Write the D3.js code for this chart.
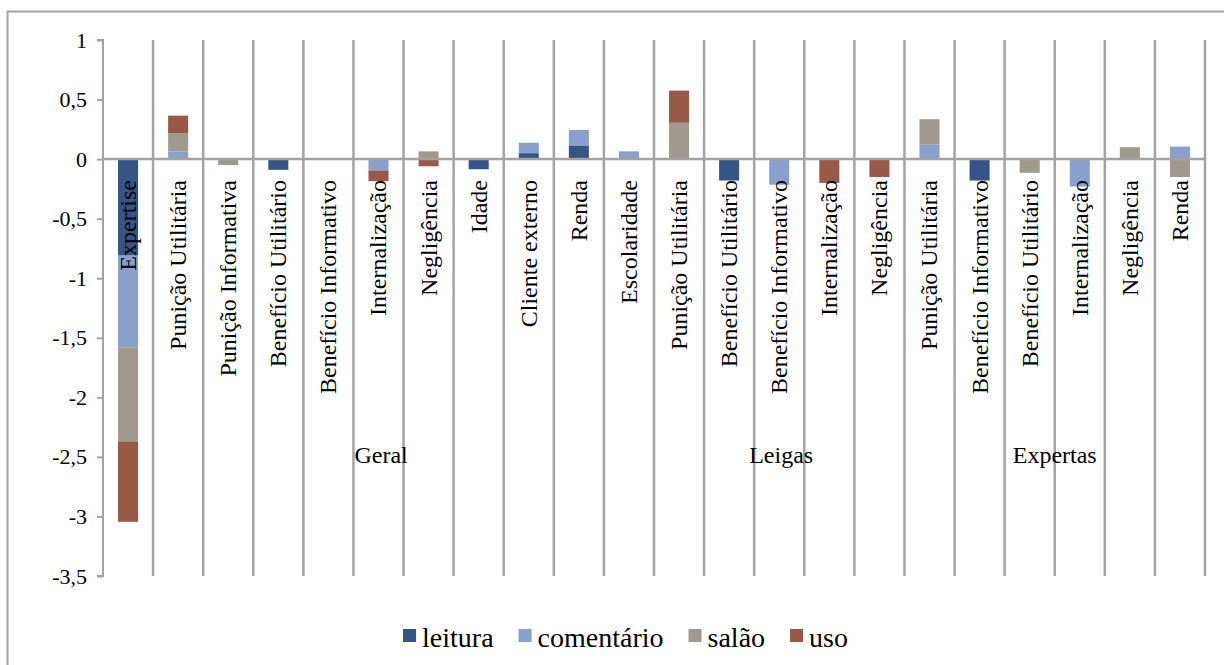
<!DOCTYPE html>
<html>
<head>
<meta charset="utf-8">
<script src="https://cdn.jsdelivr.net/npm/d3@7"></script>
<style>
  html, body { margin: 0; padding: 0; background: #fff; }
  svg { display: block; }
</style>
</head>
<body>
<svg id="chart" width="1224" height="665"></svg>
<script>
// Category names along the x axis, in order
const categories = [
  "Expertise", "Punição Utilitária", "Punição Informativa", "Benefício Utilitário",
  "Benefício Informativo", "Internalização", "Negligência", "Idade", "Cliente externo", "Renda",
  "Escolaridade", "Punição Utilitária", "Benefício Utilitário", "Benefício Informativo",
  "Internalização", "Negligência",
  "Punição Utilitária", "Benefício Informativo", "Benefício Utilitário", "Internalização",
  "Negligência", "Renda"
];
// Outer grouping level and how many categories each group spans
const groups = ["Geral", "Leigas", "Expertas"];
const groupSizes = [10, 6, 6];

// Series values (one per category)
const seriesNames = ["leitura", "comentário", "salão", "uso"];
const leitura    = [-0.81, 0, 0, -0.09, 0, 0, 0, -0.085, 0.05, 0.115, 0, 0, -0.18, 0, 0, 0, 0, -0.18, 0, 0, 0, 0];
const comentario = [-0.77, 0.065, 0, 0, 0, -0.095, 0, 0, 0.087, 0.13, 0.065, 0, 0, -0.215, 0, 0, 0.125, 0, 0, -0.23, 0, 0.105];
const salao      = [-0.79, 0.15, -0.05, 0, 0, 0, 0.065, 0, 0, 0, 0, 0.305, 0, 0, 0, 0, 0.21, 0, -0.115, 0, 0.10, -0.15];
const uso        = [-0.675, 0.15, 0, 0, 0, -0.09, -0.06, 0, 0, 0, 0, 0.27, 0, 0, -0.2, -0.15, 0, 0, 0, 0, 0, 0];
const seriesColors = ["#355587", "#88a0cb", "#a0998d", "#965a46"];

// Y axis ticks
const yTicks = [1, 0.5, 0, -0.5, -1, -1.5, -2, -2.5, -3, -3.5];
const tickLabel = v => String(v).replace(".", ",");

const FONT = "'Liberation Serif', 'DejaVu Serif', serif";

const svg = d3.select("#chart");
const gridColor = "#a3a3a3";

// Outer chart frame
svg.append("rect")
  .attr("x", 7.5).attr("y", 11.5)
  .attr("width", 1240).attr("height", 680)
  .attr("fill", "none").attr("stroke", "#a6a6a6").attr("stroke-width", 2);

const plot = { left: 103, right: 1205, top: 40, bottom: 576 };

const x = d3.scaleBand()
  .domain(d3.range(categories.length))
  .range([plot.left, plot.right])
  .paddingInner(0).paddingOuter(0);

const y = d3.scaleLinear().domain([-3.5, 1]).range([plot.bottom, plot.top]);

// Table for stacking
const rows = categories.map((c, i) => ({
  i,
  "leitura": leitura[i],
  "comentário": comentario[i],
  "salão": salao[i],
  "uso": uso[i]
}));
const stacked = d3.stack().keys(seriesNames).offset(d3.stackOffsetDiverging)(rows);

// Category separators (vertical lines)
const step = x.step();
svg.append("g")
  .selectAll("line")
  .data(d3.range(1, categories.length + 1))
  .join("line")
  .attr("x1", i => plot.left + i * step).attr("x2", i => plot.left + i * step)
  .attr("y1", y(1)).attr("y2", y(-3.5))
  .attr("stroke", gridColor).attr("stroke-width", 2.5);

// Bars
const barW = step * 0.4;
svg.append("g")
  .selectAll("g")
  .data(stacked)
  .join("g")
  .attr("fill", (d, k) => seriesColors[k])
  .selectAll("rect")
  .data(d => d.filter(p => p[1] !== p[0]))
  .join("rect")
  .attr("x", p => x(p.data.i) + (step - barW) / 2)
  .attr("width", barW)
  .attr("y", p => y(Math.max(p[0], p[1])))
  .attr("height", p => Math.abs(y(p[0]) - y(p[1])));

// Y axis
const yAxis = svg.append("g").attr("transform", `translate(${plot.left},0)`)
  .call(d3.axisLeft(y).tickValues(yTicks).tickFormat(tickLabel).tickSize(6).tickPadding(10));
yAxis.attr("font-family", null).attr("font-size", null);
yAxis.select(".domain").attr("stroke", gridColor).attr("stroke-width", 2)
  .attr("d", `M-6,${y(1)}H0V${y(-3.5)}H-6`);
yAxis.selectAll(".tick line").attr("stroke", gridColor).attr("stroke-width", 2);
yAxis.selectAll(".tick text")
  .style("font-family", FONT)
  .style("font-size", "22px").style("fill", "#000");

// Zero line
svg.append("line")
  .attr("x1", plot.left).attr("x2", plot.right)
  .attr("y1", y(0)).attr("y2", y(0))
  .attr("stroke", gridColor).attr("stroke-width", 2.5);

// Category labels, rotated, reading upward from below the zero line
svg.append("g")
  .selectAll("text")
  .data(categories)
  .join("text")
  .attr("transform", (c, i) => `translate(${x(i) + step / 2},180) rotate(-90)`)
  .attr("text-anchor", "end")
  .attr("dy", "0.33em")
  .style("font-family", FONT)
  .style("font-size", "24px")
  .text(c => c);

// Group labels (outer level of the category axis)
let start = 0;
const groupPos = groupSizes.map(n => {
  const g = { from: start, to: start + n };
  start += n;
  return g;
});
const groupAnchor = ["start", "start", "middle"];
const groupShift = [1, -5, 0];
svg.append("g")
  .selectAll("text")
  .data(groups)
  .join("text")
  .attr("x", (g, k) => plot.left + (groupPos[k].from + groupPos[k].to) / 2 * step + groupShift[k])
  .attr("text-anchor", (g, k) => groupAnchor[k])
  .attr("y", 463)
  .style("font-family", FONT)
  .style("font-size", "24px")
  .text(g => g);

// Legend
const legend = svg.append("g");
const items = legend.selectAll("g").data(seriesNames).join("g");
items.append("rect")
  .attr("width", 13).attr("height", 13)
  .attr("y", 629)
  .attr("fill", (d, k) => seriesColors[k]);
items.append("text")
  .attr("x", 19).attr("y", 647)
  .style("font-family", FONT)
  .style("font-size", "28px")
  .text(d => d);
const widths = items.nodes().map(n => 19 + n.querySelector("text").getComputedTextLength());
const gap = 25;
const total = d3.sum(widths) + gap * (widths.length - 1);
let lx = 625.5 - total / 2;
items.attr("transform", (d, k) => {
  const t = `translate(${lx},0)`;
  lx += widths[k] + gap;
  return t;
});
</script>
</body>
</html>
